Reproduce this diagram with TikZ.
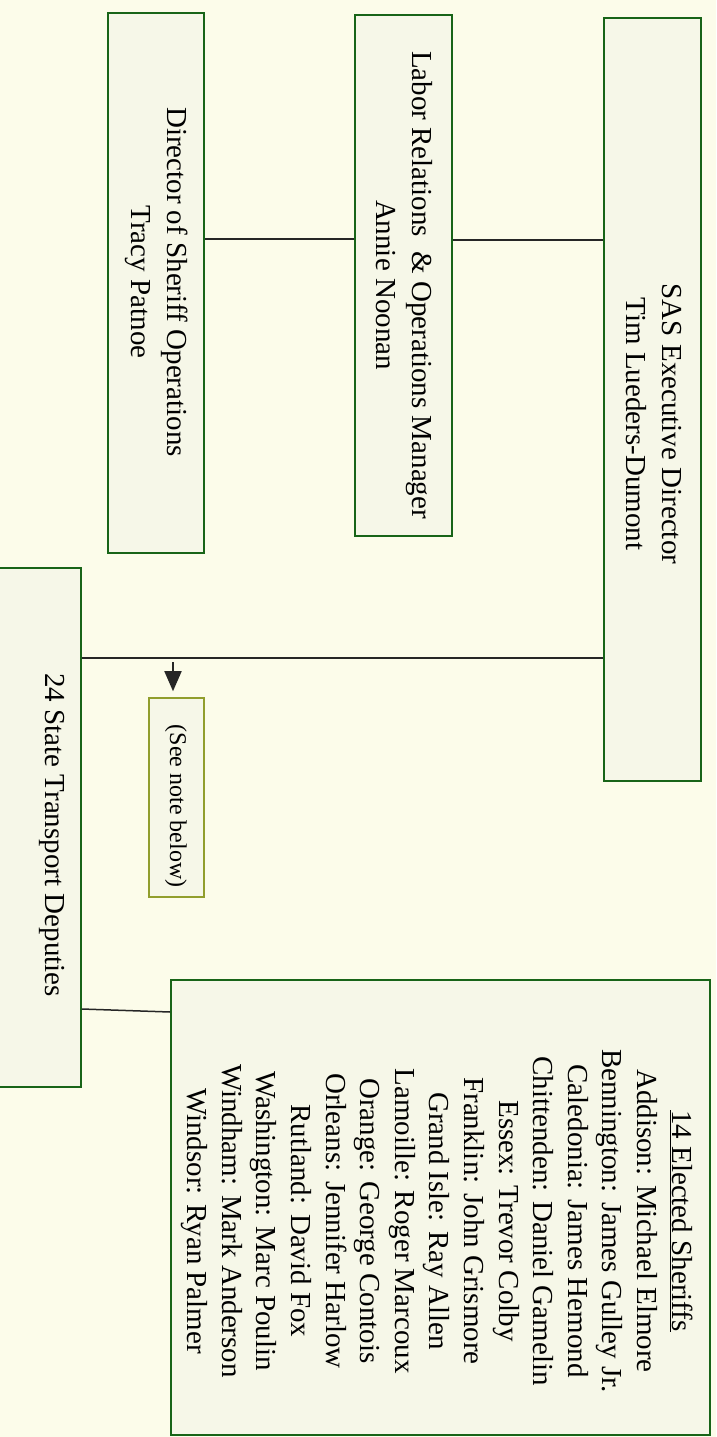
\documentclass[tikz,border=0pt]{standalone}
\usepackage{fontspec}
\setmainfont{Liberation Serif}
\usetikzlibrary{arrows.meta}
\definecolor{paper}{RGB}{252,252,234}
\definecolor{boxfill}{RGB}{246,247,232}
\definecolor{boxline}{RGB}{24,100,24}
\definecolor{noteline}{RGB}{145,158,45}
\tikzset{
  orgbox/.style={draw=boxline,fill=boxfill,line width=1.6pt,inner sep=0pt},
  notebox/.style={orgbox,draw=noteline},
  orgtext/.style={rotate=-90,align=center,inner sep=0pt,font=\fontsize{29}{36}\selectfont},
  notetext/.style={orgtext,font=\fontsize{24}{28}\selectfont},
  link/.style={line width=1.5pt,draw=black!85},
  notearrow/.style={line width=1.8pt,draw=black!85,fill=black!85,-{Stealth[inset=0pt,length=20pt,width=17pt]}},
}
\begin{document}
\begin{tikzpicture}[x=1pt,y=-1pt]
  \fill[paper] (0,0) rectangle (716,1437);
  \useasboundingbox (0,0) rectangle (716,1437);
%%
  % Node: SAS Executive Director
  \node[orgbox,minimum width=97pt,minimum height=763pt] (sas) at (652.5,399.5) {};
  \node[orgtext] (sastext) at (654,424) {SAS Executive Director\\Tim Lueders-Dumont};
  % Node: Labor Relations & Operations Manager
  \node[orgbox,minimum width=97pt,minimum height=521pt] (labor) at (403.5,275.5) {};
  \node[orgtext] (labortext) at (404,285) {Labor Relations \ \& Operations Manager\\Annie Noonan};
  % Node: Director of Sheriff Operations
  \node[orgbox,minimum width=96pt,minimum height=540pt] (dso) at (156,283) {};
  \node[orgtext] (dsotext) at (157,282) {Director of Sheriff Operations\\Tracy Patnoe};
  % Node: 24 State Transport Deputies
  \node[orgbox,minimum width=97pt,minimum height=519pt] (deputies) at (32.5,827.5) {};
  \node[orgtext] (deputiestext) at (52,835) {24 State Transport Deputies};
  % Node: (See note below)
  \node[notebox,minimum width=55pt,minimum height=199pt] (note) at (176.5,797.5) {};
  \node[notetext] (notetext) at (176,806) {(See note below)};
  % Node: 14 Elected Sheriffs
  \node[orgbox,minimum width=539pt,minimum height=455pt] (sheriffs) at (440.5,1207.5) {};
  \node[orgtext,font=\fontsize{29}{34.6}\selectfont] (sheriffstext) at (437,1221) {\underline{14 Elected Sheriffs}\\
    Addison: Michael Elmore\\Bennington: James Gulley Jr.\\Caledonia: James Hemond\\
    Chittenden: Daniel Gamelin\\Essex: Trevor Colby\\Franklin: John Grismore\\
    Grand Isle: Ray Allen\\Lamoille: Roger Marcoux\\Orange: George Contois\\
    Orleans: Jennifer Harlow\\Rutland: David Fox\\Washington: Marc Poulin\\
    Windham: Mark Anderson\\Windsor: Ryan Palmer};
%%
  % Edge: SAS Executive Director -> Labor Relations & Operations Manager
  \draw[link] (sas.west |- 0,240) -- (labor.east |- 0,240);
  % Edge: Labor Relations & Operations Manager -> Director of Sheriff Operations
  \draw[link] (labor.west |- 0,239) -- (dso.east |- 0,239);
  % Edge: SAS Executive Director -> 24 State Transport Deputies
  \draw[link] (sas.west |- 0,658) -- (deputies.east |- 0,658);
  \coordinate (notetap) at (173,662);
  % Edge: SAS Executive Director -> (See note below)
  \draw[notearrow,shorten >=6pt] (notetap) -- (notetap |- note.north);
  % Edge: 24 State Transport Deputies -> 14 Elected Sheriffs
  \draw[link] (deputies.east |- 0,1009) -- (sheriffs.west |- 0,1012);
%
\end{tikzpicture}
\end{document}
